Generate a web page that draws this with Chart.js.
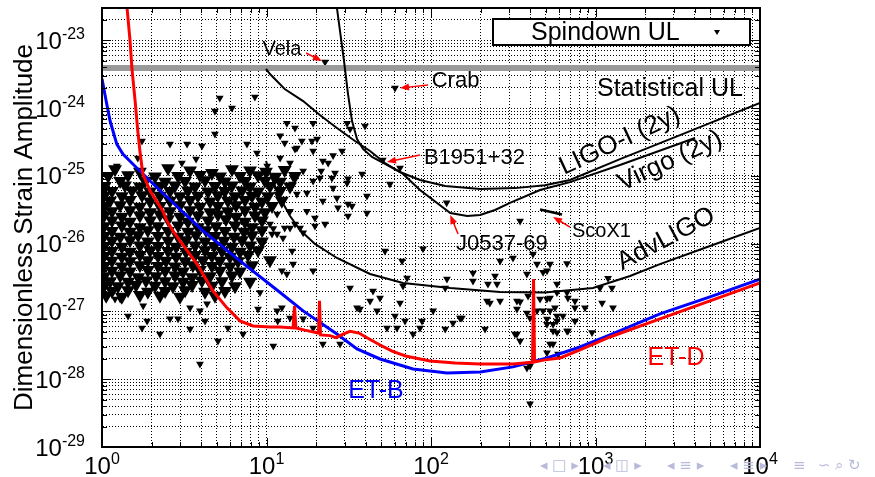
<!DOCTYPE html>
<html lang="en">
<head>
<meta charset="UTF-8">
<title>Strain upper limits</title>
<script src="https://cdn.jsdelivr.net/npm/chart.js"></script>
<style>
  body { margin: 0; background: #fff; }
  #wrap { position: relative; width: 875px; height: 477px; }
</style>
</head>
<body>
<div id="wrap"><canvas id="ulChart"></canvas></div>
<script>
// all points are [frequency (Hz), strain amplitude]
const etD = [
  [1.40, 5.3e-23], [1.42, 3e-23], [1.48, 1e-23], [1.52, 3.9e-24], [1.59, 1.27e-24], [1.65, 4.6e-25],
  [1.70, 2.33e-25], [1.77, 1.07e-25], [1.96, 6.0e-26], [2.35, 3.0e-26], [2.48, 2.16e-26], [2.70, 1.54e-26],
  [2.98, 1.1e-26], [3.78, 5.0e-27], [4.73, 2.0e-27], [5.75, 1.13e-27], [6.9, 7.25e-28], [8.28, 6.1e-28],
  [10.5, 5.9e-28], [12.1, 5.9e-28], [14.5, 5.7e-28], [14.8, 1.2e-27], [15.1, 5.7e-28], [17.1, 5.3e-28],
  [20.7, 4.8e-28], [21.0, 1.43e-27], [21.3, 4.5e-28], [24.3, 4.4e-28], [26.5, 4.1e-28], [29.0, 4.6e-28],
  [32.2, 5.1e-28], [36.5, 4.8e-28], [40.8, 4.1e-28], [49, 3.2e-28], [58, 2.6e-28], [70, 2.2e-28],
  [98.6, 1.86e-28], [140, 1.74e-28], [199, 1.68e-28], [315, 1.68e-28], [414, 1.78e-28], [420, 3.0e-27],
  [426, 1.8e-28], [493, 1.93e-28], [608, 2.06e-28], [805, 2.7e-28], [1225, 4.2e-28], [2465, 7.75e-28],
  [4966, 1.43e-27], [10000, 2.63e-27]
];
const etB = [
  [1.0, 2.7e-24], [1.06, 1.27e-24], [1.12, 6.45e-25], [1.23, 2.95e-25], [1.34, 2.1e-25], [1.54, 1.5e-25],
  [1.96, 8.4e-26], [2.52, 4.72e-26], [4.11, 1.54e-26], [6.9, 5.56e-27], [12.1, 1.9e-27], [16.7, 1.02e-27],
  [26.8, 4.65e-28], [35.5, 2.8e-28], [49, 1.99e-28], [77.8, 1.42e-28], [125, 1.24e-28], [199, 1.28e-28],
  [315, 1.52e-28], [507, 2.06e-28], [805, 2.99e-28], [1225, 4.5e-28], [2465, 9.2e-28], [4966, 1.64e-27],
  [10000, 3.0e-27]
];
const advLigo = [
  [9.93, 1.66e-25], [10.8, 9.0e-26], [12.1, 4.72e-26], [13.9, 2.56e-26], [16.0, 1.59e-26], [19.7, 9.9e-27],
  [26.8, 6.15e-27], [42.6, 3.57e-27], [67.6, 2.63e-27], [131, 2.22e-27], [263, 1.94e-27], [493, 1.9e-27],
  [966, 2.22e-27], [1622, 3.34e-27], [2465, 5.0e-27], [4966, 9.25e-27], [10000, 1.71e-26]
];
const ligoI = [
  [25.7, 7.5e-23], [26.8, 3e-23], [29.6, 4.95e-24], [31.3, 1.61e-24], [33.1, 6.45e-25], [35.5, 3.5e-25],
  [38.6, 2.5e-25], [43.8, 1.9e-25], [52.5, 1.5e-25], [64.8, 1.14e-25], [85.7, 8.7e-26], [122, 7.1e-26],
  [199, 6.4e-26], [324, 6.6e-26], [493, 7.3e-26], [700, 8.7e-26], [1409, 1.77e-25], [3265, 4.0e-25],
  [10000, 1.19e-24]
];
const virgo = [
  [9.93, 3.8e-24], [10.5, 3.18e-24], [12.9, 1.91e-24], [16.7, 1.27e-24], [21.1, 7.9e-25], [26.8, 5.1e-25],
  [34.5, 3.27e-25], [42.6, 2.33e-25], [52.5, 1.55e-25], [67.6, 1.07e-25], [85.7, 6.2e-26], [131, 2.84e-26],
  [166, 2.56e-26], [199, 2.65e-26], [245, 3.14e-26], [302, 4.0e-26], [460, 6.2e-26], [700, 8.1e-26],
  [1409, 1.45e-25], [4027, 3.62e-25]
];
const scoX1 = [[460, 3.2e-26], [626, 2.7e-26]];
const statUL = [[1, 3.9e-24], [10000, 3.9e-24]];

// spindown upper limits, crowded low-frequency group
const pulsarCrowd = [
  [1.20, 1.25e-25], [1.70, 1.15e-25], [2.52, 1.3e-25], [3.43, 1.2e-25], [4.66, 1.1e-25], [6.17, 1.25e-25], [7.94, 1.2e-25], [9.93, 1.15e-25], [12.9, 1.22e-25],
  [1.09, 1.0e-25], [1.44, 1.02e-25], [2.10, 9.8e-26], [2.90, 1.0e-25], [3.94, 1.03e-25], [5.22, 9.8e-26], [6.90, 1.0e-25], [8.88, 1.02e-25], [11.3, 9.7e-26], [14.9, 1.0e-25],
  [1.29, 8.4e-26], [1.83, 8.5e-26], [2.42, 8.2e-26], [3.20, 8.4e-26], [4.23, 8.6e-26], [5.59, 8.3e-26], [7.40, 8.4e-26], [9.79, 8.5e-26], [12.1, 8.2e-26],
  [1.04, 7.1e-26], [1.38, 7.2e-26], [1.70, 7.0e-26], [2.25, 7.1e-26], [2.78, 7.2e-26], [3.68, 7.0e-26], [4.86, 7.1e-26], [6.17, 7.2e-26], [7.94, 7.0e-26], [10.5, 7.1e-26], [13.9, 7.0e-26],
  [1.15, 6.0e-26], [1.52, 6.1e-26], [1.96, 5.9e-26], [2.59, 6.0e-26], [3.33, 6.1e-26], [4.41, 5.9e-26], [5.59, 6.0e-26], [7.10, 6.1e-26], [8.88, 5.9e-26], [12.1, 6.0e-26],
  [1.03, 5.1e-26], [1.32, 5.0e-26], [1.75, 5.2e-26], [2.25, 5.1e-26], [2.98, 5.0e-26], [3.83, 5.1e-26], [5.07, 5.2e-26], [6.44, 5.0e-26], [8.17, 5.1e-26], [10.2, 5.0e-26],
  [1.12, 4.3e-26], [1.48, 4.4e-26], [1.96, 4.2e-26], [2.59, 4.3e-26], [3.43, 4.4e-26], [4.54, 4.2e-26], [5.83, 4.3e-26], [7.40, 4.4e-26], [9.39, 4.2e-26], [12.4, 4.3e-26],
  [1.04, 3.6e-26], [1.29, 3.7e-26], [1.70, 3.5e-26], [2.25, 3.6e-26], [2.98, 3.7e-26], [3.94, 3.5e-26], [5.07, 3.6e-26], [6.53, 3.7e-26], [8.51, 3.5e-26], [10.8, 3.6e-26],
  [1.15, 3.0e-26], [1.48, 3.1e-26], [1.96, 2.9e-26], [2.59, 3.0e-26], [3.43, 3.1e-26], [4.54, 2.9e-26], [5.83, 3.0e-26], [7.40, 3.1e-26], [9.79, 2.9e-26],
  [1.03, 2.6e-26], [1.32, 2.5e-26], [1.70, 2.6e-26], [2.25, 2.7e-26], [2.98, 2.5e-26], [3.83, 2.6e-26], [5.07, 2.7e-26], [6.53, 2.5e-26], [8.51, 2.6e-26],
  [1.15, 2.2e-26], [1.48, 2.1e-26], [1.96, 2.2e-26], [2.52, 2.3e-26], [3.33, 2.1e-26], [4.41, 2.2e-26], [5.67, 2.3e-26], [7.40, 2.1e-26], [9.39, 2.2e-26],
  [1.03, 1.8e-26], [1.32, 1.85e-26], [1.70, 1.75e-26], [2.19, 1.8e-26], [2.90, 1.85e-26], [3.83, 1.75e-26], [4.93, 1.8e-26], [6.44, 1.85e-26], [8.17, 1.75e-26],
  [1.15, 1.54e-26], [1.48, 1.5e-26], [1.90, 1.58e-26], [2.52, 1.54e-26], [3.33, 1.5e-26], [4.29, 1.58e-26], [5.59, 1.54e-26], [7.30, 1.5e-26], [9.39, 1.58e-26],
  [1.03, 1.3e-26], [1.29, 1.27e-26], [1.66, 1.33e-26], [2.19, 1.3e-26], [2.90, 1.27e-26], [3.73, 1.33e-26], [4.86, 1.3e-26], [6.35, 1.27e-26], [8.17, 1.33e-26],
  [1.15, 1.1e-26], [1.48, 1.12e-26], [1.90, 1.08e-26], [2.52, 1.1e-26], [3.24, 1.12e-26], [4.23, 1.08e-26], [5.51, 1.1e-26], [7.10, 1.12e-26], [9.39, 1.08e-26],
  [1.03, 9.2e-27], [1.32, 9.0e-27], [1.70, 9.4e-27], [2.19, 9.2e-27], [2.82, 9.0e-27], [3.68, 9.4e-27], [4.80, 9.2e-27], [6.17, 9.0e-27], [7.94, 9.4e-27],
  [1.15, 7.8e-27], [1.48, 7.6e-27], [1.96, 8.0e-27], [2.52, 7.8e-27], [3.24, 7.6e-27], [4.23, 8.0e-27], [5.36, 7.8e-27], [6.90, 7.6e-27], [8.88, 8.0e-27],
  [1.03, 6.6e-27], [1.32, 6.4e-27], [1.70, 6.8e-27], [2.19, 6.6e-27], [2.82, 6.4e-27], [3.68, 6.8e-27], [4.66, 6.6e-27], [6.00, 6.4e-27], [7.72, 6.8e-27],
  [1.15, 5.6e-27], [1.48, 5.5e-27], [1.90, 5.7e-27], [2.45, 5.6e-27], [3.20, 5.5e-27], [4.11, 5.7e-27], [5.22, 5.6e-27], [6.71, 5.5e-27], [10.5, 5.7e-27],
  [1.03, 4.7e-27], [1.32, 4.6e-27], [1.70, 4.8e-27], [2.19, 4.7e-27], [2.78, 4.6e-27], [3.57, 4.8e-27], [4.66, 4.7e-27], [6.00, 4.6e-27], [8.17, 4.8e-27],
  [1.15, 4.0e-27], [1.48, 3.9e-27], [1.90, 4.1e-27], [2.42, 4.0e-27], [3.11, 3.9e-27], [3.94, 4.1e-27], [5.22, 4.0e-27], [6.90, 3.9e-27],
  [1.03, 3.3e-27], [1.29, 3.4e-27], [1.66, 3.2e-27], [2.13, 3.3e-27], [2.78, 3.4e-27], [3.53, 3.2e-27], [4.54, 3.3e-27], [6.17, 3.4e-27],
  [1.12, 2.8e-27], [1.44, 2.75e-27], [1.85, 2.85e-27], [2.42, 2.8e-27], [3.11, 2.75e-27], [4.05, 2.85e-27], [5.36, 2.8e-27], [7.94, 2.75e-27],
  [1.03, 2.4e-27], [1.25, 2.35e-27], [1.61, 2.45e-27], [2.10, 2.4e-27], [2.70, 2.35e-27], [3.53, 2.45e-27], [4.66, 2.4e-27], [6.44, 2.35e-27],
  [1.15, 2.0e-27], [1.44, 2.05e-27], [1.90, 1.95e-27], [2.42, 2.0e-27], [3.20, 2.05e-27], [4.23, 1.95e-27], [5.59, 2.0e-27],
  [1.06, 1.7e-27], [1.32, 1.65e-27], [1.70, 1.75e-27], [2.25, 1.7e-27], [2.98, 1.65e-27], [4.86, 1.7e-27]
];
// spindown upper limits, scattered ones
const pulsarSparse = [
  [5.2, 1.41e-24], [8.5, 1.46e-24], [4.86, 9.1e-25], [6.17, 1.0e-24], [13.3, 6.0e-25], [14.9, 5.1e-25], [4.86, 4.15e-25],
  [2.59, 2.95e-25], [3.29, 2.95e-25], [4.05, 2.76e-25], [7.61, 2.95e-25], [12.9, 3.06e-25], [1.75, 3.27e-25], [15.3, 2.58e-25],
  [8.75, 2.18e-25], [3.06, 1.55e-25], [3.73, 1.77e-25], [10.1, 1.4e-25], [1.23, 1.4e-25], [1.65, 1.84e-25], [12.1, 3.9e-25],
  [19.2, 6.0e-25], [30.9, 6.0e-25], [32.2, 4.9e-25], [39.7, 5.45e-25], [16.4, 3.27e-25], [18.9, 3.27e-25], [20.3, 3.5e-25],
  [14.9, 2.5e-25], [12.1, 1.84e-25], [13.9, 1.55e-25], [19.2, 2.33e-25], [22.0, 1.66e-25], [23.7, 1.55e-25], [28.8, 2.33e-25],
  [25.0, 9.3e-26], [31.3, 9.1e-26], [40.8, 5.05e-26], [31.3, 3.85e-26], [31.3, 2.56e-26], [40.8, 2.84e-26], [56.3, 7.6e-26],
  [64.8, 1.31e-25], [22.7, 4.8e-24], [60.4, 1.98e-24], [50.9, 1.72e-25], [124.5, 4.0e-26],
  [12.6, 1.26e-25], [14.5, 9.3e-26], [16.7, 1.18e-25], [14.3, 7.6e-26], [11.6, 5.4e-26], [15.3, 5.4e-26], [17.6, 5.6e-26],
  [19.2, 8.4e-26], [21.1, 9.3e-26], [22.0, 4.27e-26], [25.4, 6.6e-26], [17.6, 3.0e-26], [13.9, 3.0e-26], [11.6, 2.74e-26],
  [14.9, 1.95e-26], [19.7, 2.4e-26], [26.8, 4.7e-26], [27.2, 3.4e-26], [25.4, 2.0e-25], [21.5, 1.18e-25], [26.1, 1.1e-25],
  [30.9, 7.85e-26], [38.1, 1.07e-25], [33.1, 3.6e-26], [348, 2.16e-26],
  [11.6, 1.39e-26], [12.9, 1.71e-26], [11.0, 1.68e-26], [12.6, 1.21e-26], [14.3, 7.8e-27], [14.5, 5.0e-27], [12.4, 4.0e-27],
  [13.3, 3.57e-27], [19.2, 4.0e-27], [11.6, 1.02e-27], [12.4, 1.13e-27], [11.7, 7.25e-28], [13.9, 8.0e-28], [16.7, 7.8e-28],
  [19.2, 5.7e-28], [22.0, 3.3e-28], [19.7, 1.82e-26], [22.7, 1.95e-26], [16.0, 1.71e-26], [16.7, 1.45e-26], [13.9, 1.71e-26],
  [10.5, 1.95e-26], [10.8, 1.39e-26], [32.2, 2.22e-27], [35.5, 1.13e-27], [42.6, 1.43e-27], [44.4, 2.0e-27], [49.0, 1.58e-27],
  [47.0, 1.02e-27], [52.5, 7.8e-27], [66.7, 5.56e-27], [67.6, 2.38e-27], [71.5, 3.12e-27], [64.8, 1.33e-27], [69.5, 7.25e-28],
  [54.0, 5.7e-28], [62.1, 5.7e-28], [89.4, 8.4e-27], [88.2, 7.25e-28], [103, 1.02e-27], [122, 5.5e-28], [125, 3.0e-27],
  [28.0, 3.3e-28], [37.0, 1.09e-27],
  [60.4, 8.6e-28], [77.8, 4.65e-28], [85.7, 5.7e-28], [136, 6.76e-28], [154, 8.0e-28], [180, 3.7e-27], [180, 2.82e-27],
  [222, 2.54e-27], [252, 2.54e-27], [219, 1.43e-27], [263, 1.43e-27], [213, 5.5e-28], [324, 4.65e-28], [333, 1.09e-27],
  [383, 9.5e-28], [400, 8.0e-28], [441, 1.02e-27], [383, 3.57e-27], [417, 7.05e-27], [263, 5.56e-27], [441, 5.0e-27],
  [529, 5.0e-27], [671, 5.1e-27], [507, 4.0e-27], [583, 2.54e-27], [460, 1.53e-27], [507, 1.53e-27], [567, 1.13e-27],
  [583, 7.25e-28], [507, 7.75e-28], [750, 1.43e-27], [750, 7.25e-28], [671, 5.16e-28], [552, 5.16e-28], [529, 3.3e-28],
  [592, 2.36e-28], [400, 1.57e-28], [400, 4.33e-29], [348, 1.39e-27], [348, 3.67e-28],
  [315, 6.15e-27], [480, 3.8e-27], [245, 3.34e-27], [228, 1.33e-27], [333, 1.43e-27], [389, 1.69e-27], [529, 1.58e-27],
  [583, 1.9e-27], [680, 1.58e-27], [529, 1.02e-27], [583, 8.6e-28], [480, 1.02e-27], [507, 6.5e-28], [552, 6.5e-28],
  [583, 4.9e-28], [750, 1.13e-27], [680, 5.16e-28], [952, 4.9e-28], [552, 3.3e-28], [507, 2.45e-28], [150, 8.0e-28],
  [333, 4.65e-28], [383, 1.47e-28], [122, 2.22e-27],
  [671, 1.9e-27], [863, 1.13e-27], [634, 8.6e-28], [1065, 2.22e-27], [1192, 3.1e-27], [1259, 2.22e-27], [1096, 1.33e-27],
  [1277, 1.13e-27],
  [1.20, 1.53e-27], [1.44, 8.6e-28], [1.75, 5.7e-28], [1.88, 7.25e-28], [2.25, 4.65e-28], [2.59, 7.8e-28], [2.90, 7.8e-28],
  [3.43, 5.5e-28], [3.94, 1.68e-28], [4.23, 7.25e-28], [5.07, 3.67e-28], [5.83, 5.7e-28], [7.2, 4.65e-28], [8.88, 1.09e-27],
  [9.13, 1.9e-27], [11.0, 3.1e-28], [1.29, 1.53e-27], [1.78, 1.21e-27], [3.43, 1.13e-27], [3.94, 1.02e-27], [4.35, 1.3e-27]
];

// text labels and red arrows, placed in data coordinates
const notes = [
  { text: 'Vela', f: 12.4, h: 7.4e-24, size: 20 },
  { text: 'Crab', f: 101, h: 2.51e-24, size: 22, align: 'left' },
  { text: 'B1951+32', f: 90.6, h: 1.84e-25, size: 22, align: 'left' },
  { text: 'J0537-69', f: 270, h: 9.9e-27, size: 22 },
  { text: 'ScoX1', f: 719, h: 1.49e-26, size: 20, align: 'left' },
  { text: 'Statistical UL', f: 1021, h: 1.91e-24, size: 25, align: 'left' },
  { text: 'LIGO-I (2y)', f: 1409, h: 3.27e-25, size: 26, angle: -25 },
  { text: 'Virgo (2y)', f: 2838, h: 1.66e-25, size: 26, angle: -25 },
  { text: 'AdvLIGO', f: 2685, h: 1.17e-26, size: 26, angle: -28 },
  { text: 'ET-B', f: 46.3, h: 6.7e-29, size: 25, color: '#0000ff' },
  { text: 'ET-D', f: 3085, h: 2.06e-28, size: 25, color: '#ff0000' }
];
const arrows = [
  [17.4, 6.5e-24, 21.7, 4.95e-24],
  [95.9, 2.19e-24, 64.8, 1.98e-24],
  [85.7, 2.03e-25, 54.0, 1.6e-25],
  [146, 1.39e-26, 131, 2.65e-26],
  [700, 1.76e-26, 552, 2.48e-26]
];

const mantissas = [1, 2, 3, 4, 5, 6, 7, 8, 9];
const xExps = [0, 1, 2, 3];
const yExps = [-29, -28, -27, -26, -25, -24];
const xTicks = xExps.flatMap(e => mantissas.map(m => m * Math.pow(10, e))).concat([1e4]);
const yTicks = yExps.flatMap(e => mantissas.map(m => m * Math.pow(10, e))).concat([1e-23, 2e-23, 3e-23]);

const FONT = "'Liberation Sans', Arial, Helvetica, sans-serif";
Chart.defaults.font.family = FONT;
Chart.defaults.color = '#000';

function isDecade(v) {
  const l = Math.log10(v);
  return Math.abs(l - Math.round(l)) < 1e-6;
}
const toXY = arr => arr.map(p => ({ x: p[0], y: p[1] }));

function lineSet(label, pts, color, width, order) {
  return { label, data: toXY(pts), showLine: true, borderColor: color, borderWidth: width,
    pointRadius: 0, pointHoverRadius: 0, fill: false, tension: 0, order };
}

// "10" with a raised exponent
function drawPower(ctx, x0, baseY, e, anchor) {
  ctx.font = '24px ' + FONT;
  const w1 = ctx.measureText('10').width;
  ctx.font = '16px ' + FONT;
  const es = String(e);
  const w2 = ctx.measureText(es).width;
  const left = anchor === 'right' ? x0 - w1 - w2 : x0 - (w1 + w2) / 2;
  ctx.font = '24px ' + FONT;
  ctx.fillText('10', left, baseY);
  ctx.font = '16px ' + FONT;
  ctx.fillText(es, left + w1, baseY - 10);
}

const decorations = {
  id: 'decorations',
  afterDatasetsDraw(chart) {
    const { ctx, chartArea: a, scales: { x, y } } = chart;
    ctx.save();
    // inner tick marks on all four sides
    ctx.strokeStyle = '#000';
    ctx.lineWidth = 1;
    ctx.beginPath();
    x.ticks.forEach(t => {
      const px = Math.round(x.getPixelForValue(t.value)) + 0.5;
      const len = isDecade(t.value) ? 9 : 5;
      ctx.moveTo(px, a.bottom); ctx.lineTo(px, a.bottom - len);
      ctx.moveTo(px, a.top); ctx.lineTo(px, a.top + len);
    });
    y.ticks.forEach(t => {
      const py = Math.round(y.getPixelForValue(t.value)) + 0.5;
      const len = isDecade(t.value) ? 9 : 5;
      ctx.moveTo(a.left, py); ctx.lineTo(a.left + len, py);
      ctx.moveTo(a.right, py); ctx.lineTo(a.right - len, py);
    });
    ctx.stroke();
    ctx.lineWidth = 2;
    ctx.strokeRect(a.left, a.top, a.right - a.left, a.bottom - a.top);

    // red arrows
    ctx.strokeStyle = '#ff0000';
    ctx.fillStyle = '#ff0000';
    ctx.lineWidth = 1.5;
    arrows.forEach(([f1, h1, f2, h2]) => {
      const x1 = x.getPixelForValue(f1), y1 = y.getPixelForValue(h1);
      const x2 = x.getPixelForValue(f2), y2 = y.getPixelForValue(h2);
      const ang = Math.atan2(y2 - y1, x2 - x1);
      const c = Math.cos(ang), s = Math.sin(ang);
      ctx.beginPath(); ctx.moveTo(x1, y1); ctx.lineTo(x2 - 6 * c, y2 - 6 * s); ctx.stroke();
      ctx.beginPath();
      ctx.moveTo(x2, y2);
      ctx.lineTo(x2 - 9 * c + 3.5 * s, y2 - 9 * s - 3.5 * c);
      ctx.lineTo(x2 - 9 * c - 3.5 * s, y2 - 9 * s + 3.5 * c);
      ctx.closePath(); ctx.fill();
    });

    // text labels
    ctx.textBaseline = 'middle';
    notes.forEach(n => {
      ctx.save();
      ctx.translate(x.getPixelForValue(n.f), y.getPixelForValue(n.h));
      if (n.angle) ctx.rotate(n.angle * Math.PI / 180);
      ctx.font = n.size + 'px ' + FONT;
      ctx.fillStyle = n.color || '#000';
      ctx.textAlign = n.align || 'center';
      ctx.fillText(n.text, 0, 0);
      ctx.restore();
    });

    // legend box
    const lx = a.right - 267, ly = a.top + 11, lw = 257, lh = 26;
    ctx.fillStyle = '#fff';
    ctx.fillRect(lx, ly, lw, lh);
    ctx.strokeStyle = '#000';
    ctx.lineWidth = 2;
    ctx.strokeRect(lx, ly, lw, lh);
    ctx.fillStyle = '#000';
    ctx.font = '25px ' + FONT;
    ctx.textAlign = 'left';
    ctx.fillText('Spindown UL', lx + 38, ly + lh / 2 + 1);
    const tx = lx + 224, ty = ly + lh / 2;
    ctx.beginPath(); ctx.moveTo(tx - 3, ty - 2); ctx.lineTo(tx + 3, ty - 2); ctx.lineTo(tx, ty + 3); ctx.closePath(); ctx.fill();
    ctx.restore();
  },
  afterDraw(chart) {
    const { ctx, chartArea: a, scales: { x, y } } = chart;
    ctx.save();
    // tick labels
    ctx.fillStyle = '#000';
    ctx.textAlign = 'left';
    ctx.textBaseline = 'alphabetic';
    y.ticks.filter(t => isDecade(t.value)).forEach(t => {
      drawPower(ctx, a.left - 17, y.getPixelForValue(t.value) + 8.5, Math.round(Math.log10(t.value)), 'right');
    });
    x.ticks.filter(t => isDecade(t.value)).forEach(t => {
      drawPower(ctx, x.getPixelForValue(t.value), a.bottom + 27, Math.round(Math.log10(t.value)), 'center');
    });
    // beamer navigation symbols, bottom right
    ctx.fillStyle = '#b7bbd9';
    ctx.font = "15px 'DejaVu Sans', sans-serif";
    ctx.textBaseline = 'middle';
    [['\u25C2 \u25A1 \u25B8', 540], ['\u25C2 \u25EB \u25B8', 603], ['\u25C2 \u2261 \u25B8', 667],
     ['\u25C2 \u2261 \u25B8', 730], ['\u2261', 793], ['\u223D \u2315 \u21BB', 818]].forEach(([s, px]) => {
      ctx.fillText(s, px, 466);
    });
    ctx.restore();
  }
};

new Chart(document.getElementById('ulChart'), {
  type: 'scatter',
  data: {
    datasets: [
      { label: 'Spindown UL', data: toXY(pulsarCrowd), pointStyle: 'triangle', rotation: 180, pointRadius: 8,
        pointHoverRadius: 8, backgroundColor: '#000', borderWidth: 0, order: 7 },
      { label: 'Spindown UL (scattered)', data: toXY(pulsarSparse), pointStyle: 'triangle', rotation: 180, pointRadius: 4.5,
        pointHoverRadius: 4.5, backgroundColor: '#000', borderWidth: 0, order: 6 },
      lineSet('Statistical UL', statUL, '#9a9a9a', 6, 5),
      lineSet('LIGO-I (2y)', ligoI, '#000', 2, 4),
      lineSet('Virgo (2y)', virgo, '#000', 2, 4),
      lineSet('AdvLIGO', advLigo, '#000', 2, 4),
      lineSet('ScoX1', scoX1, '#000', 2.5, 4),
      lineSet('ET-B', etB, '#0000ff', 3, 3),
      lineSet('ET-D', etD, '#ff0000', 3, 2)
    ]
  },
  options: {
    responsive: true,
    maintainAspectRatio: false,
    animation: false,
    layout: { padding: { top: 7, right: 115, left: 0, bottom: 0 } },
    plugins: { legend: { display: false }, tooltip: { enabled: false } },
    scales: {
      x: {
        type: 'logarithmic', min: 1, max: 1e4,
        afterBuildTicks: s => { s.ticks = xTicks.map(v => ({ value: v, major: isDecade(v) })); },
        afterFit: s => { s.height = 30; s.paddingLeft = 0; s.paddingRight = 0; },
        ticks: { display: false, autoSkip: false },
        grid: { color: '#000', lineWidth: 1, drawTicks: false },
        border: { display: true, color: '#000', width: 2, dash: [1, 2] }
      },
      y: {
        type: 'logarithmic', min: 1e-29, max: 3e-23,
        afterBuildTicks: s => { s.ticks = yTicks.map(v => ({ value: v, major: isDecade(v) })); },
        afterFit: s => { s.width = 102; s.paddingTop = 0; s.paddingBottom = 0; },
        ticks: { display: false, autoSkip: false },
        grid: { color: '#000', lineWidth: 1, drawTicks: false },
        border: { display: true, color: '#000', width: 2, dash: [1, 2] },
        title: { display: true, text: 'Dimensionless Strain Amplitude', font: { size: 26 }, padding: { top: 9, bottom: 0 } }
      }
    }
  },
  plugins: [decorations]
});
</script>
</body>
</html>
